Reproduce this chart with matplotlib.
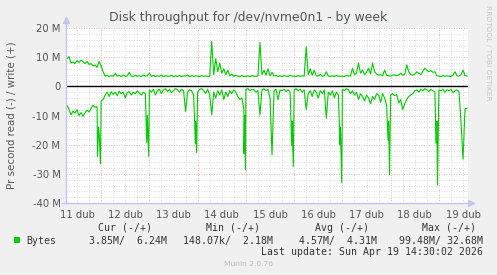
import numpy as np
import matplotlib
matplotlib.use("Agg")
import matplotlib.pyplot as plt

# ---------------- data ----------------
title = "Disk throughput for /dev/nvme0n1 - by week"
ylabel = "Pr second read (-) / write (+)"
day_labels = ["11 dub", "12 dub", "13 dub", "14 dub", "15 dub",
              "16 dub", "17 dub", "18 dub", "19 dub"]
day_label_pos = [0.5, 1.5, 2.5, 3.5, 4.5, 5.5, 6.5, 7.5, 8.5]   # days since 11 Apr 00:00 (noon)
ytick_vals = [20e6, 10e6, 0, -10e6, -20e6, -30e6, -40e6]
ytick_labels = ["20 M", "10 M", "0", "-10 M", "-20 M", "-30 M", "-40 M"]
x_start, x_end = 0.272, 8.603          # visible time window (days)

# hourly samples per day (MB/s); day start offset in days since 11 Apr 00:00
day_start = [0.25, 1, 2, 3, 4, 5, 6, 7, 8]

write_d11 = [8.5, 9.5, 10.2, 8.0, 8.3, 7.8, 8.8, 8.2, 9.0, 8.4, 7.8, 8.6, 7.5, 7.8, 7.0, 7.3, 6.5, 8.5]
write_d12 = [7.0, 5.0, 3.5, 3.8, 3.3, 3.7, 3.4, 4.5, 3.5, 3.8, 3.3, 3.9, 3.4, 3.6, 4.8, 3.5, 3.3, 3.8, 3.4, 3.7, 3.3, 3.9, 3.5, 3.6]
write_d13 = [4.6, 3.4, 3.8, 3.3, 3.6, 3.4, 3.9, 3.3, 3.7, 3.4, 3.5, 3.8, 3.3, 3.6, 3.4, 3.8, 3.3, 3.6, 3.5, 3.9, 3.3, 3.7, 3.4, 3.6]
write_d14 = [3.5, 3.3, 3.7, 3.4, 3.6, 3.4, 3.5, 15.4, 4.0, 9.5, 5.0, 8.0, 4.5, 6.0, 4.0, 5.5, 3.6, 4.2, 3.4, 3.8, 3.5, 3.3, 3.7, 3.4]
write_d15 = [3.4, 3.6, 3.3, 3.7, 3.5, 3.4, 3.6, 15.0, 4.0, 5.5, 3.8, 6.0, 3.6, 4.8, 3.5, 3.7, 3.4, 3.6, 3.3, 3.7, 3.5, 3.4, 3.8, 3.5]
write_d16 = [3.5, 3.3, 3.7, 3.4, 3.6, 3.5, 13.6, 4.0, 6.0, 3.8, 5.5, 3.6, 3.5, 4.2, 3.4, 3.7, 5.0, 3.5, 3.4, 3.6, 3.3, 3.7, 3.5, 3.4]
write_d17 = [3.5, 3.4, 3.7, 3.5, 3.6, 6.2, 4.0, 4.5, 8.0, 4.5, 5.6, 4.0, 4.8, 6.2, 4.2, 8.0, 5.0, 4.2, 3.8, 4.0, 3.6, 5.6, 3.8, 3.6]
write_d18 = [3.5, 3.8, 4.0, 3.6, 3.9, 4.5, 3.8, 4.2, 7.4, 5.0, 4.0, 3.8, 4.2, 5.0, 4.5, 4.0, 5.2, 6.2, 5.5, 5.0, 5.4, 4.8, 5.0, 3.6]
write_d19 = [3.5, 3.3, 3.7, 3.4, 3.6, 3.5, 3.3, 3.8, 5.0, 3.6, 3.5, 4.0, 5.6, 3.7, 3.5]

read_d11 = [-5.8, -6.5, -7.8, -9.8, -8.5, -9.2, -8.0, -10.0, -9.0, -10.3, -9.0, -8.2, -8.8, -7.5, -6.5, -7.2, -7.0, -16.0]
read_d12 = [-5.0, -4.5, -3.0, -2.0, -3.5, -1.8, -2.8, -2.0, -3.2, -1.6, -2.5, -2.0, -4.0, -2.2, -1.8, -3.0, -2.0, -2.6, -1.5, -2.4, -3.0, -2.0, -2.5, -10.0]
read_d13 = [-1.2, -2.0, -1.0, -3.0, -1.5, -1.0, -2.5, -1.2, -0.8, -1.8, -1.0, -2.2, -1.5, -0.8, -1.2, -2.0, -1.0, -1.5, -8.6, -2.0, -1.2, -1.5, -3.0, -12.0]
read_d14 = [-2.0, -1.0, -0.8, -1.5, -2.5, -1.0, -3.0, -9.8, -2.0, -4.0, -1.5, -3.0, -1.2, -4.5, -2.0, -3.5, -1.5, -2.5, -1.2, -2.0, -3.5, -4.5, -4.0, -8.0]
read_d15 = [-1.0, -0.8, -1.5, -1.0, -1.2, -2.0, -1.5, -9.8, -1.2, -0.8, -1.5, -1.0, -4.0, -23.5, -1.5, -1.0, -4.6, -1.2, -1.5, -1.0, -1.8, -1.2, -2.0, -12.0]
read_d16 = [-1.2, -0.8, -1.5, -1.0, -2.0, -1.2, -8.0, -2.5, -1.5, -3.5, -1.2, -2.0, -4.0, -1.5, -2.5, -1.2, -11.0, -2.0, -3.0, -1.5, -4.0, -2.0, -3.0, -14.0]
read_d17 = [-1.0, -1.5, -0.8, -1.2, -2.5, -1.5, -3.0, -2.0, -4.5, -2.5, -3.5, -5.0, -3.0, -4.0, -6.0, -3.5, -4.5, -2.5, -3.0, -5.5, -2.5, -4.0, -6.5, -12.0]
read_d18 = [-3.0, -2.5, -3.2, -2.8, -5.7, -4.5, -8.0, -6.0, -4.5, -3.5, -3.0, -2.5, -1.5, -1.2, -2.0, -1.0, -1.5, -0.8, -1.2, -1.8, -1.0, -1.5, -2.0, -12.0]
read_d19 = [-1.2, -1.5, -1.0, -2.0, -1.2, -1.5, -1.0, -2.2, -1.5, -1.2, -1.8, -12.5, -25.0, -7.7, -7.5]

# short nightly read bursts between hourly samples (days, MB/s)
read_burst_t = [0.925, 0.946, 0.987, 1.945, 1.986, 2.955, 2.98, 3.961, 3.975, 3.992,
                4.95, 4.983, 5.951, 5.986, 6.946, 6.977, 7.94, 7.971]
read_burst_v = [-24.0, -14.0, -26.6, -19.3, -24.0, -19.7, -22.7, -23.0, -10.0, -28.6,
                -20.3, -27.5, -20.0, -33.0, -18.5, -30.3, -19.5, -33.8]

legend_name = "Bytes"
legend_headers = ["Cur (-/+)", "Min (-/+)", "Avg (-/+)", "Max (-/+)"]
legend_values = ["3.85M/  6.24M", "148.07k/  2.18M", "4.57M/  4.31M", "99.48M/ 32.68M"]
last_update = "Last update: Sun Apr 19 14:30:02 2026"
footer = "Munin 2.0.76"
side_text = "RRDTOOL / TOBI OETIKER"

# ---------------- build ----------------
def series(days, extra_t=(), extra_v=()):
    ts, vs = [], []
    for d0, vals in zip(day_start, days):
        ts.append(d0 + np.arange(len(vals)) / 24.0)
        vs.append(np.asarray(vals, float))
    t = np.concatenate(ts + [np.asarray(extra_t, float)])
    v = np.concatenate(vs + [np.asarray(extra_v, float)])
    o = np.argsort(t, kind="stable")
    return t[o], v[o] * 1e6

wt, wv = series([write_d11, write_d12, write_d13, write_d14, write_d15,
                 write_d16, write_d17, write_d18, write_d19])
rt, rv = series([read_d11, read_d12, read_d13, read_d14, read_d15,
                 read_d16, read_d17, read_d18, read_d19], read_burst_t, read_burst_v)

W, H = 497, 275
fig = plt.figure(figsize=(W / 100, H / 100), dpi=100, facecolor="#F0F0F0")
L, R, T, B = 66, 468, 28, 203
ax = fig.add_axes([L / W, 1 - B / H, (R - L) / W, (B - T) / H])
ax.set_facecolor("#FFFFFF")
ax.set_xlim(x_start, x_end)
ax.set_ylim(-40e6, 20e6)

dot = (0, (1, 2))
for x in np.arange(0.25, x_end, 0.25):
    if abs(x - round(x)) > 1e-6:
        ax.axvline(x, color="#CFCFCF", lw=0.6, ls=dot, zorder=1)
for x in np.arange(1, 9):
    ax.axvline(x, color="#E89A9A", lw=0.6, ls=dot, zorder=1)
for y in np.arange(-40e6, 20.1e6, 2e6):
    if abs(y) % 10e6 > 1:
        ax.axhline(y, color="#CFCFCF", lw=0.6, ls=dot, zorder=1)
for y in np.arange(-40e6, 20.1e6, 10e6):
    ax.axhline(y, color="#E89A9A", lw=0.6, ls=dot, zorder=1)

ax.plot(rt, rv, color="#00CC00", lw=0.8, zorder=3)
ax.plot(wt, wv, color="#00CC00", lw=0.8, zorder=3)
ax.axhline(0, color="#000000", lw=1.0, zorder=4)

for s in ax.spines.values():
    s.set_visible(False)
axc = "#C4C4EC"
ax.plot([0, 0], [0, 1 + 8 / 175], transform=ax.transAxes, color=axc, lw=1, clip_on=False, zorder=5)
ax.plot([-4 / 402, 1 + 3 / 402], [0, 0], transform=ax.transAxes, color=axc, lw=1, clip_on=False, zorder=5)
ax.plot([0], [1 + 8 / 175], marker="^", ms=4, color=axc, transform=ax.transAxes, clip_on=False)
ax.plot([1 + 3 / 402], [0], marker=">", ms=4, color=axc, transform=ax.transAxes, clip_on=False)

tc = "#555555"
ax.set_xticks(day_label_pos, day_labels)
ax.set_yticks(ytick_vals, ytick_labels)
ax.tick_params(axis="both", length=0, labelsize=7.2, colors=tc, pad=4)
ax.tick_params(axis="x", pad=5)

fig.text(248 / W, 1 - 17 / H, title, ha="center", va="center", fontsize=8.9, color="#555555")
fig.text(12 / W, 1 - 115 / H, ylabel, ha="center", va="center", rotation=90, fontsize=7.4, color=tc)
fig.text(488 / W, 1 - 53 / H, side_text, ha="center", va="center", rotation=-90, fontsize=5.4, color="#C8C8C8")

mono = "DejaVu Sans Mono"
fs = 7.1
lc = "#333333"
head_x = [98, 206, 315, 422]
val_x = [89, 183, 299, 399]
for hx, h in zip(head_x, legend_headers):
    fig.text(hx / W, 1 - 228 / H, h, ha="left", va="center", family=mono, fontsize=fs, color=lc)
fig.patches.append(plt.Rectangle((14 / W, 1 - 242.5 / H), 5.5 / W, 5.5 / H, transform=fig.transFigure,
                                 facecolor="#00CC00", edgecolor="none"))
fig.text(26.5 / W, 1 - 241 / H, legend_name, ha="left", va="center", family=mono, fontsize=fs, color=lc)
for vx, v in zip(val_x, legend_values):
    fig.text(vx / W, 1 - 241 / H, v, ha="left", va="center", family=mono, fontsize=fs, color=lc)
fig.text(483 / W, 1 - 252 / H, last_update, ha="right", va="center", family=mono, fontsize=fs, color=lc)
fig.text(248 / W, 1 - 264 / H, footer, ha="center", va="center", fontsize=5.4, color="#BBBBBB")

fig.savefig("out.png", dpi=100, facecolor=fig.get_facecolor())
